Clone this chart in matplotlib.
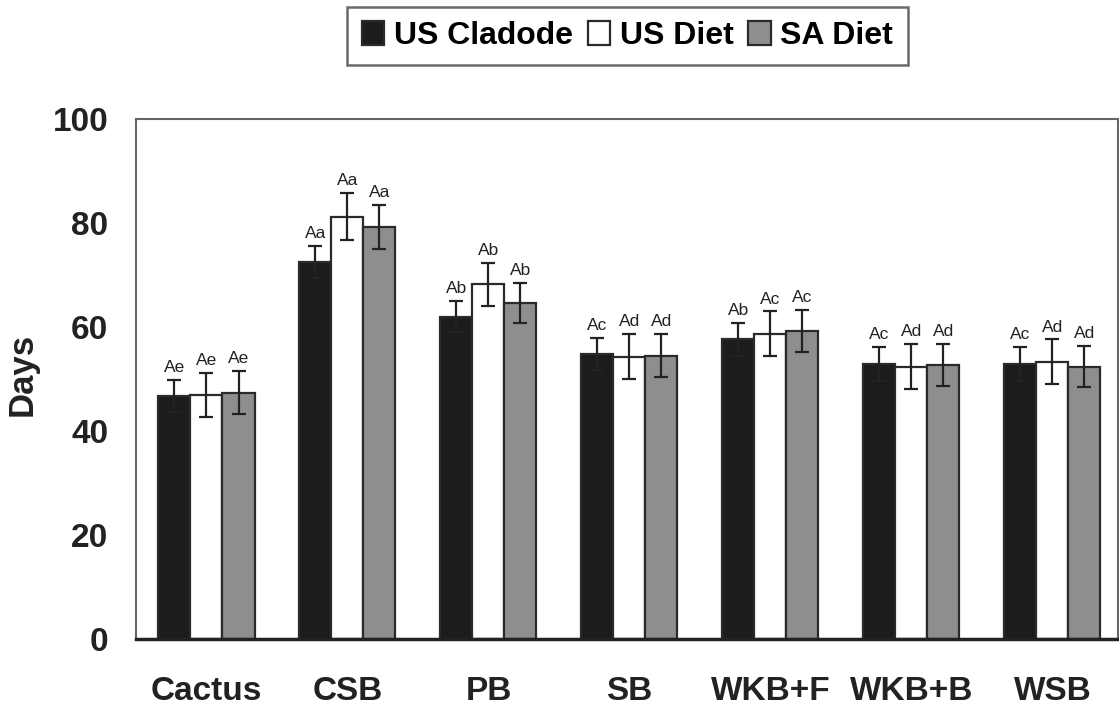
import matplotlib
matplotlib.use("Agg")
import matplotlib.pyplot as plt
import numpy as np

categories = ["Cactus", "CSB", "PB", "SB", "WKB+F", "WKB+B", "WSB"]
series_names = ["US Cladode", "US Diet", "SA Diet"]
us_cladode = [46.8, 72.5, 62.0, 54.8, 57.6, 52.9, 52.9]
us_diet = [46.9, 81.2, 68.2, 54.3, 58.7, 52.4, 53.3]
sa_diet = [47.4, 79.2, 64.6, 54.5, 59.2, 52.7, 52.4]
err_cladode = [3.1, 3.1, 3.0, 3.1, 3.1, 3.2, 3.2]
err_us = [4.3, 4.5, 4.2, 4.3, 4.3, 4.3, 4.3]
err_sa = [4.1, 4.2, 3.9, 4.1, 4.0, 4.0, 3.9]
lab_cladode = ["Ae", "Aa", "Ab", "Ac", "Ab", "Ac", "Ac"]
lab_us = ["Ae", "Aa", "Ab", "Ad", "Ac", "Ad", "Ad"]
lab_sa = ["Ae", "Aa", "Ab", "Ad", "Ac", "Ad", "Ad"]
yticks = [0, 20, 40, 60, 80, 100]

bold_font = ["Liberation Sans", "DejaVu Sans"]
plain_font = ["Liberation Sans", "DejaVu Sans"]

W, H = 1119, 717
fig = plt.figure(figsize=(W / 100, H / 100), dpi=100)
ax = fig.add_axes([136 / W, (H - 639) / H, (1118 - 136) / W, (639 - 119) / H])

x = np.arange(len(categories))
bw = 0.227
colors = ["#1e1b1c", "#ffffff", "#8e8e90"]
vals = [us_cladode, us_diet, sa_diet]
errs = [err_cladode, err_us, err_sa]
labs = [lab_cladode, lab_us, lab_sa]
handles = []
for i in range(3):
    pos = x + (i - 1) * bw
    b = ax.bar(pos, vals[i], bw, color=colors[i], edgecolor="#2a2a2a",
               linewidth=1.6, label=series_names[i], zorder=2)
    handles.append(b)
    ax.errorbar(pos, vals[i], yerr=errs[i], fmt="none", ecolor="#222222",
                elinewidth=1.6, capsize=5, capthick=1.6, zorder=3)
    for p, v, e, t in zip(pos, vals[i], errs[i], labs[i]):
        ax.annotate(t, (p, v + e), xytext=(0, 3.5), textcoords="offset points",
                    ha="center", va="bottom", fontsize=12.5, family=plain_font,
                    color="#222222")

ax.set_xlim(-0.5, 6.465)
ax.set_ylim(0, 100)
ax.set_yticks(yticks)
ax.set_xticks(x)
ax.set_xticklabels(categories)
ax.tick_params(axis="both", length=0)
ax.tick_params(axis="y", pad=20)
ax.tick_params(axis="x", pad=27)
for lbl in ax.get_yticklabels() + ax.get_xticklabels():
    lbl.set_fontfamily(bold_font)
    lbl.set_fontweight("bold")
    lbl.set_fontsize(24)
    lbl.set_color("#222222")

ax.set_ylabel("Days", fontsize=25, fontweight="bold", family=bold_font,
              color="#222222", va="center")
ax.yaxis.set_label_coords((22 - 136) / 982, (639 - 374) / 520)

for s in ["top", "left", "right"]:
    ax.spines[s].set_color("#666666")
    ax.spines[s].set_linewidth(1.5)
ax.spines["bottom"].set_color("#222222")
ax.spines["bottom"].set_linewidth(2.5)

leg = fig.legend(handles=handles, labels=series_names, loc="center",
                 bbox_to_anchor=(627.5 / W, 1 - 36 / H), ncol=3, frameon=True,
                 fancybox=False, edgecolor="#444444", handlelength=0.69,
                 handleheight=0.78, handletextpad=0.31, columnspacing=0.47,
                 borderpad=0.45, borderaxespad=0,
                 prop={"family": bold_font, "weight": "bold", "size": 23})
leg.get_frame().set_linewidth(1.8)

fig.savefig("out.png", dpi=100)
